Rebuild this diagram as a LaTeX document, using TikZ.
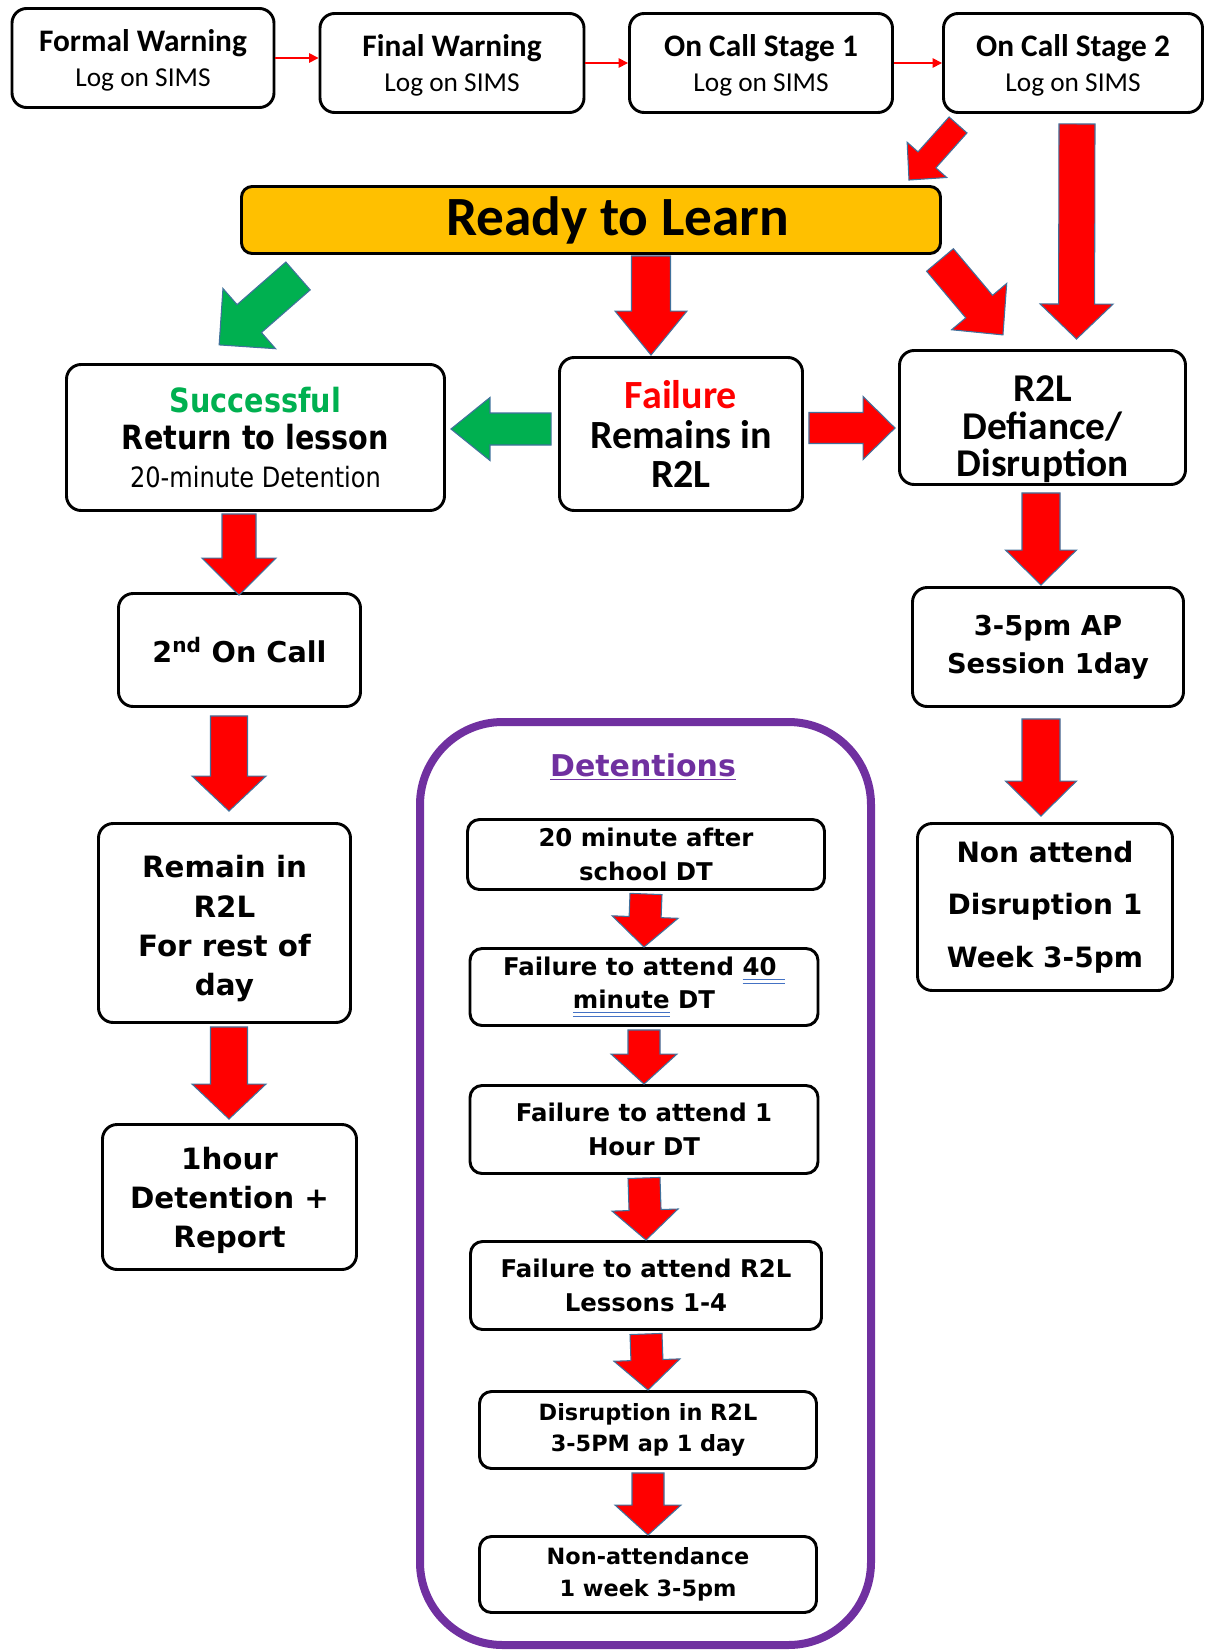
\documentclass[tikz,border=0pt]{standalone}
\usepackage{fontspec}
\setmainfont{Carlito}
\newfontfamily\verdanafont{DejaVu Sans}
\newfontfamily\tahomafont{DejaVu Sans}[FakeStretch=0.86]
\usetikzlibrary{calc,positioning,arrows.meta}

\definecolor{ArrowRed}{HTML}{FF0000}
\definecolor{GoGreen}{HTML}{00B050}
\definecolor{ReadyOrange}{HTML}{FFC000}
\definecolor{DetPurple}{HTML}{7030A0}
\definecolor{ArrowEdge}{HTML}{41719C}
\definecolor{GramBlue}{HTML}{4472C4}

\newcommand{\subline}[1]{{\mdseries\fontsize{20.5}{26}\selectfont #1}}
\newcommand{\gramul}[1]{\setbox0\hbox{#1}%
  \rlap{\color{GramBlue}\rule[-3.5pt]{\wd0}{0.9pt}}%
  \rlap{\color{GramBlue}\rule[-6.5pt]{\wd0}{0.9pt}}\box0\relax}

% block arrow from tail to tip: [fill]{tail}{tip}{shaft}{head}{head length}, sizes in px
\newcommand{\bigarrow}[6][ArrowRed]{%
  \path[blockarrow, fill=#1]
    let \p1=(#2), \p2=(#3),
        \n1={atan2(\y2-\y1,\x2-\x1)}, \n2={veclen(\x2-\x1,\y2-\y1)},
        \n3={\n2-#6*0.75pt}, \n4={#4*0.375pt}, \n5={#5*0.375pt}
    in [shift={(\p1)}, rotate=\n1]
    (0pt,-\n4*1pt) -- (\n3*1pt,-\n4*1pt) -- (\n3*1pt,-\n5*1pt) -- (\n2*1pt,0pt)
    -- (\n3*1pt,\n5*1pt) -- (\n3*1pt,\n4*1pt) -- (0pt,\n4*1pt) -- cycle;
}

\tikzset{
  blockarrow/.style={draw=ArrowEdge, line width=0.8pt, line join=miter},
  smallarrow/.style={draw=ArrowRed, line width=1.2pt, -{Triangle[length=7pt,width=7pt]}},
  boxsize/.style 2 args={minimum width=#1*0.75pt, minimum height=#2*0.75pt},
}

\begin{document}
\begin{tikzpicture}[x=0.75pt, y=-0.75pt]
  \tikzset{
    every node/.style={inner sep=0pt, align=center},
    box/.style={rectangle, draw=black, line width=2.2pt, rounded corners=11pt, fill=white},
    topbox/.style={box, font=\fontsize{23.5}{26}\selectfont\bfseries},
    readybox/.style={box, fill=ReadyOrange, rounded corners=8pt, font=\fontsize{41.5}{48}\selectfont\bfseries},
    calibox/.style={box, font=\fontsize{30}{29.5}\selectfont\bfseries},
    stepbox/.style={box, font=\verdanafont\bfseries\fontsize{22}{29.5}\selectfont},
    detbox/.style={box, rounded corners=9pt, font=\verdanafont\bfseries\fontsize{18.3}{25.3}\selectfont},
    frame/.style={draw=DetPurple, line width=6pt, rounded corners=62pt},
  }
  \useasboundingbox (0,0) rectangle (1206,1652);

  % top row
  \node[topbox, boxsize={262}{99}] (fw) at (143,58) {\rule{0pt}{20pt}Formal Warning\\\subline{Log on SIMS}};
  \node[topbox, boxsize={264}{99}] (fiw) at (452,63) {\rule{0pt}{20pt}Final Warning\\\subline{Log on SIMS}};
  \node[topbox, boxsize={263}{99}] (oc1) at (761,63) {\rule{0pt}{20pt}On Call Stage 1\\\subline{Log on SIMS}};
  \node[topbox, boxsize={259}{99}] (oc2) at (1073,63) {\rule{0pt}{20pt}On Call Stage 2\\\subline{Log on SIMS}};

  \draw[smallarrow] (fw.east) -- (fiw.west |- fw.east);
  \draw[smallarrow] (fiw.east) -- (oc1.west);
  \draw[smallarrow] (oc1.east) -- (oc2.west);

  \node[readybox, boxsize={699}{67}] (rtl) at (591,220) {\hspace*{40pt}Ready to Learn};

  % second row
  \node[box, boxsize={378}{146}, font=\tahomafont\bfseries\fontsize{25}{28}\selectfont] (succ) at (255.5,437.5)
    {\color{GoGreen}Successful\\Return to lesson\\{\mdseries\fontsize{21}{28}\selectfont 20-minute Detention}};
  \node[calibox, boxsize={243}{153}] (fail) at (681,434) {\color{ArrowRed}Failure\\Remains in\\R2L};
  \node[calibox, boxsize={286}{134}, font=\fontsize{29.5}{28.4}\selectfont\bfseries] (r2l) at (1042.5,417.5)
    {\rule{0pt}{37pt}R2L\\Defiance/\\Disruption};

  % left column
  \node[stepbox, boxsize={242}{113}, font=\verdanafont\bfseries\fontsize{21.5}{28}\selectfont] (second) at (239.5,650)
    {2\textsuperscript{nd} On Call};
  \node[stepbox, boxsize={252}{199}] (remain) at (224.5,923) {\rule{0pt}{25.5pt}Remain in\\R2L\\For rest of\\day};
  \node[stepbox, boxsize={254}{145}] (onehour) at (229.5,1197) {\rule{0pt}{22pt}1hour\\Detention +\\Report};

  % right column
  \node[stepbox, boxsize={271}{119}, font=\verdanafont\bfseries\fontsize{20.5}{28.4}\selectfont] (ap) at (1048,647)
    {3-5pm AP\\Session 1day};
  \node[stepbox, boxsize={255}{167}, font=\verdanafont\bfseries\fontsize{21}{39.5}\selectfont] (nonatt) at (1045,907)
    {Non attend\\Disruption 1\\Week 3-5pm};

  % detentions
  \node[frame, boxsize={451}{923}] (dframe) at (645.5,1183.5) {};
  \node[font=\verdanafont\bfseries\fontsize{22.5}{27}\selectfont, text=DetPurple] (dtitle) at (643,767)
    {\underline{Detentions}};
  \node[detbox, boxsize={357}{70}] (d1) at (646,854.5) {20 minute after\\school DT};
  \node[detbox, boxsize={348}{77}] (d2) at (644,987) {Failure to attend \gramul{40\ }\\\gramul{minute} DT};
  \node[detbox, boxsize={348}{88}] (d3) at (644,1129.5) {Failure to attend 1\\Hour DT};
  \node[detbox, boxsize={351}{88}] (d4) at (646,1285.5) {Failure to attend R2L\\Lessons 1-4};
  \node[detbox, boxsize={337}{77}, font=\verdanafont\bfseries\fontsize{16.8}{23.7}\selectfont] (d5) at (648,1430)
    {Disruption in R2L\\3-5PM ap 1 day};
  \node[detbox, boxsize={337}{76}, font=\verdanafont\bfseries\fontsize{16.8}{23.7}\selectfont] (d6) at (648,1574.5)
    {Non-attendance\\1 week 3-5pm};

  % block arrows
  \bigarrow{$(oc2.south west)+(16,11)$}{$(rtl.north east)+(-33,-5)$}{24}{53}{27}
  \bigarrow{$(oc2.south)+(4,10)$}{$(r2l.north)+(34,-10)$}{36}{73}{35}
  \bigarrow{$(rtl.south east)+(-2,5)$}{$(r2l.north west)+(105,-14)$}{35}{72}{37}
  \bigarrow{$(rtl.south)+(60,1)$}{$(fail.north)+(-30,-1)$}{39}{72}{44}
  \bigarrow[GoGreen]{$(rtl.south west)+(58,21)$}{$(succ.north)+(-36.5,-18)$}{37}{80}{40}
  \bigarrow[GoGreen]{$(fail.west)+(-7,-5)$}{$(succ.east)+(5,-8.5)$}{32}{63}{39}
  \bigarrow{$(fail.east)+(5,-6)$}{$(r2l.west)+(-3,10.5)$}{31}{63}{32}
  \bigarrow{$(succ.south)+(-16.5,2)$}{$(second.north)+(-0.5,3)$}{34}{74}{37}
  \bigarrow{$(second.south)+(-10.5,8)$}{$(remain.north)+(4.5,-11)$}{37}{74}{35}
  \bigarrow{$(remain.south)+(4.5,3)$}{$(onehour.north)+(-0.5,-4)$}{37}{74}{35}
  \bigarrow{$(r2l.south)+(-1.5,7)$}{$(ap.north)+(-7,-1)$}{38}{71}{35}
  \bigarrow{$(ap.south)+(-7,11)$}{$(nonatt.north)+(-4,-6)$}{38}{71}{35}
  \foreach \a/\b in {d1/d2, d2/d3, d3/d4, d4/d5, d5/d6}
    \bigarrow{$(\a.south)+(0,3)$}{\b.north}{32}{66}{30};
\end{tikzpicture}
\end{document}
